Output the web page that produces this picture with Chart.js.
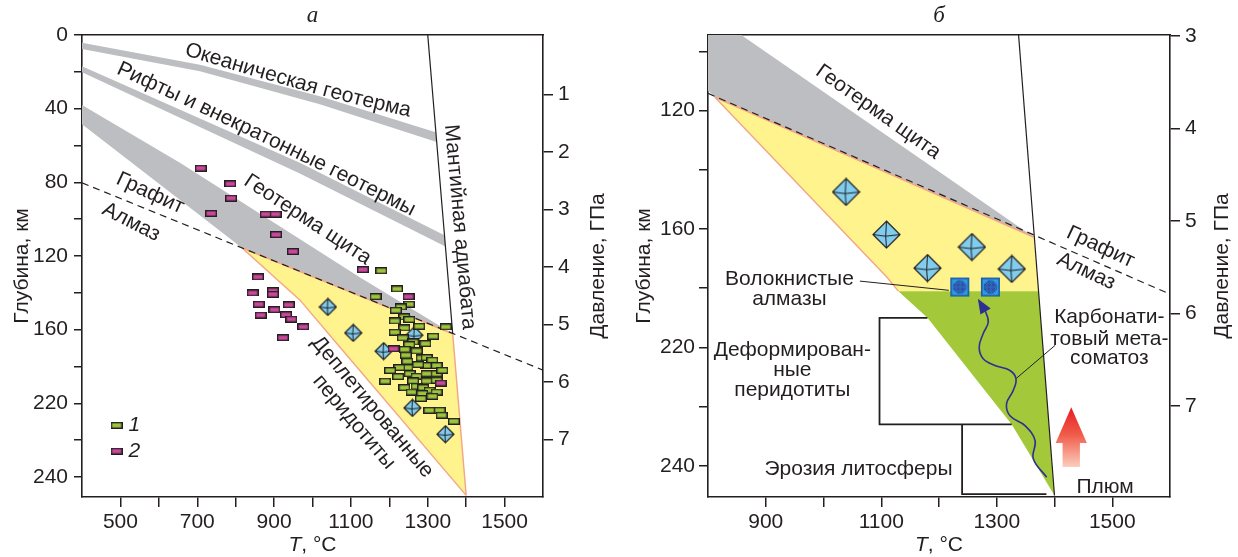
<!DOCTYPE html>
<html>
<head>
<meta charset="utf-8">
<script src="https://cdn.jsdelivr.net/npm/chart.js@4.4.1/dist/chart.umd.min.js"></script>
<style>
  html, body { margin: 0; padding: 0; background: #fff; }
  #wrap { position: relative; width: 1238px; height: 557px; overflow: hidden; background: #fff; }
  #wrap canvas { position: absolute; top: 0; }
  #panelA { left: 0; }
  #panelB { left: 620px; }
</style>
</head>
<body>
<div id="wrap">
  <canvas id="panelA" width="620" height="557"></canvas>
  <canvas id="panelB" width="618" height="557"></canvas>
</div>
<script>
// ================= Data: temperature T (°C) vs depth (km) =================

// Axis ticks and their labels
const tempTicksA  = [500, 600, 700, 800, 900, 1000, 1100, 1200, 1300, 1400, 1500];
const tempLabelsA = ['500', '', '700', '', '900', '', '1100', '', '1300', '', '1500'];
const depthTicksA  = [0, 20, 40, 60, 80, 100, 120, 140, 160, 180, 200, 220, 240];
const depthLabelsA = ['0', '', '40', '', '80', '', '120', '', '160', '', '220', '', '240'];
const pressTicksA  = [1, 2, 3, 4, 5, 6, 7];

const tempTicksB  = [900, 1000, 1100, 1200, 1300, 1400, 1500];
const tempLabelsB = ['900', '', '1100', '', '1300', '', '1500'];
const depthTicksB  = [100, 120, 140, 160, 180, 200, 220, 240];
const depthLabelsB = ['', '120', '', '160', '', '220', '', '240'];
const pressTicksB  = [3, 4, 5, 6, 7];

// Pressure (GPa) scale tied to depth
const KM_PER_GPA = 31.25;
const KM_AT_ZERO_GPA = 1;
const toGPa = d => (d - KM_AT_ZERO_GPA) / KM_PER_GPA;

// Shared reference lines
const graphiteDiamondLine = [[400, 80.3], [1600, 182]];
const mantleAdiabat = [[1300, 0], [1400, 250]];

// Panel а: geotherm bands
const oceanicBandA = [[400, 4.2], [707, 16.1], [1019, 33.3], [1320.8, 52.8],
                      [1323.2, 58.1], [1019, 37.6], [707, 19.7], [400, 7.6]];
const riftBandA    = [[400, 17.0], [967, 69.4], [1343.5, 108.8],
                      [1346, 114.9], [967, 75.2], [400, 20.2]];
const shieldBandA  = [[400, 38], [656, 69.5], [1123, 131.5], [1365, 162.3],
                      [816, 115.5], [400, 48.5]];
// Panel а: depleted peridotite field
const depletedFieldA = [[816, 115.5], [1365, 162.3], [1400, 250], [1071, 169.4], [967.5, 144]];
const depletedEdgeA  = [[816, 115.5], [967.5, 144], [1071, 169.4], [1400, 250]];
const diamondEdgeA   = [[816, 115.5], [1365, 162.3]];
const adiabatUpperA  = [[1300, 0], [1365, 162.3]];
const adiabatLowerA  = [[1365, 162.3], [1400, 250]];

// Panel а: xenolith P–T estimates, group 1 and group 2
const group1T = [1179, 1220, 1164, 1251, 1230, 1217, 1239, 1214, 1252, 1239, 1278, 1214, 1347, 1235,
                 1314, 1294, 1262, 1252, 1240, 1271, 1243, 1247, 1284, 1297, 1312, 1323, 1295, 1275,
                 1247, 1226, 1202, 1223, 1253, 1271, 1297, 1323, 1338, 1189, 1262, 1297, 1323, 1239,
                 1271, 1288, 1305, 1258, 1286, 1323, 1312, 1282, 1304, 1331, 1336, 1368];
const group1D = [128, 137.9, 142.1, 146.2, 147.7, 149.5, 153.1, 155.3, 154.5, 159.1, 158.2, 161.4, 158.5, 164.5,
                 163.6, 167.6, 166.7, 168.1, 170.7, 171.6, 173.9, 177.2, 175.4, 175.2, 176.6, 179.5, 179.5, 179,
                 180.6, 180.6, 182.2, 185.5, 183.9, 185.3, 183.9, 183.9, 182.1, 188, 187.9, 187.9, 187.5, 191.5,
                 190.8, 191.5, 192.9, 193.9, 194.7, 193.9, 196.2, 197.4, 203.8, 203.8, 206.5, 209.8];
const group2T = [709, 786, 788, 736, 878, 904, 905, 949, 1131, 858, 844, 897, 897, 860, 938, 865,
                 901, 931, 945, 976, 923, 1250, 1211, 1334];
const group2D = [72.3, 80.8, 88.6, 96.9, 97.3, 97.3, 108.4, 117.6, 127.4, 131.4, 140.1, 138.9, 140.8, 146.2,
                 146.5, 152.1, 149.2, 151.9, 154.3, 158.5, 164.4, 142.1, 170.4, 189];
// Panel а: diamond inclusions
const diamondsAT = [1040, 1106, 1185, 1265, 1260, 1346];
const diamondsAD = [147.7, 161.8, 171.7, 163, 202.5, 216.8];

// Panel б: fields
const shieldBandB    = [[790, 85.4], [1363.8, 162.7], [812, 115.5], [790, 111.2]];
const depletedFieldB = [[812, 115.5], [1363.8, 162.7], [1372.4, 181], [1129.6, 181], [1109.5, 176.2]];
const metasomFieldB  = [[1129.6, 181], [1372.4, 181], [1400, 250], [1326, 226], [1180, 190]];
const depletedEdgeB  = [[812, 115.5], [1109.5, 176.2], [1129.6, 181]];
const diamondEdgeB   = [[812, 115.5], [1363.8, 162.7]];
const deformedBox1B  = [[1180, 190], [1097, 190], [1097, 226], [1326, 226]];
const deformedBox2B  = [[1240, 226], [1240, 249.5], [1386, 249.5]];
const fibrousLeaderB = [[1063, 177.6], [1217, 180.7]];
const carbLeaderB    = [[1333, 210.6], [1401, 199.3]];
const meltPathB = [[1386.4, 243.8], [1363.3, 237.6], [1366.3, 231.4], [1348.9, 226.4], [1322.9, 223.1],
                   [1317, 219], [1328.6, 214.5], [1333.3, 210.6], [1322.9, 207.8], [1296.9, 206.1],
                   [1276.6, 203.8], [1269.6, 199.9], [1276.6, 195.3], [1285.3, 191.4], [1279.5, 187.5],
                   [1269.1, 184.1]];
// Panel б: diamonds and fibrous diamonds
const diamondsBT = [1039, 1109, 1180, 1257, 1326];
const diamondsBD = [147.5, 161.9, 173.2, 166.1, 173.5];
const fibrousBT  = [1236, 1289];
const fibrousBD  = [179.6, 179.6];

// ================= Styling =================
const INK = '#231f20';
const SANS = "'Liberation Sans', Arial, Helvetica, sans-serif";
const SERIF = "'Liberation Serif', 'Times New Roman', serif";
const LABEL_FONT = `21px ${SANS}`;
const GRAY = '#bdbec1';
const YELLOW = '#fff38d';
const GREEN = '#a3c93a';
const SALMON = '#f3a587';

Chart.defaults.font.family = SANS;
Chart.defaults.color = INK;

// ---------- marker images ----------
function rectMarker(fill) {
  const w = 12, h = 7;
  const c = document.createElement('canvas');
  c.width = w; c.height = h;
  const g = c.getContext('2d');
  g.fillStyle = fill;
  g.fillRect(0, 0, w, h);
  g.strokeStyle = INK;
  g.lineWidth = 1.4;
  g.strokeRect(0.7, 0.7, w - 1.4, h - 1.4);
  return c;
}
function octahedronMarker(size) {
  const s = size + 2, m = s / 2, r = size / 2;
  const c = document.createElement('canvas');
  c.width = s; c.height = s;
  const g = c.getContext('2d');
  g.beginPath();
  g.moveTo(m, m - r); g.lineTo(m + r, m); g.lineTo(m, m + r); g.lineTo(m - r, m); g.closePath();
  g.fillStyle = '#80cdee';
  g.fill();
  g.strokeStyle = INK;
  g.lineWidth = 1.2;
  g.stroke();
  const cx = m - r * 0.06, cy = m + r * 0.12;
  g.beginPath();
  g.moveTo(m - r, m); g.lineTo(cx, cy); g.lineTo(m + r, m);
  g.moveTo(m, m - r); g.lineTo(cx, cy); g.lineTo(m, m + r);
  g.lineWidth = 1;
  g.stroke();
  return c;
}
function fibrousMarker(size) {
  const s = size + 2, m = s / 2;
  const c = document.createElement('canvas');
  c.width = s; c.height = s;
  const g = c.getContext('2d');
  g.fillStyle = '#2f9be0';
  g.fillRect(1, 1, size, size);
  g.strokeStyle = '#1d5ca6';
  g.lineWidth = 1.6;
  g.strokeRect(1.8, 1.8, size - 1.6, size - 1.6);
  g.save();
  g.beginPath();
  g.arc(m, m, size * 0.36, 0, Math.PI * 2);
  g.clip();
  g.beginPath();
  for (let k = -s; k < s; k += 2.6) {
    g.moveTo(k, 0); g.lineTo(k + s, s);
    g.moveTo(k, s); g.lineTo(k + s, 0);
  }
  g.strokeStyle = '#2e3192';
  g.lineWidth = 0.9;
  g.stroke();
  g.restore();
  return c;
}
const greenRect = rectMarker('#9cc43c');
const pinkRect = rectMarker('#c9489b');
const octA = octahedronMarker(17);
const octB = octahedronMarker(27);
const fibrous = fibrousMarker(19);

// ---------- dataset builders ----------
const toXY = arr => arr.map(([x, y]) => ({x, y}));
const field = (arr, color, order) => ({
  type: 'line', data: toXY(arr), fill: 'shape', backgroundColor: color,
  borderColor: 'rgba(0,0,0,0)', borderWidth: 0, pointRadius: 0, tension: 0, order,
  xAxisID: 'x', yAxisID: 'y'
});
const stroke = (arr, color, width, order, extra = {}) => Object.assign({
  type: 'line', data: toXY(arr), fill: false, borderColor: color, borderWidth: width,
  pointRadius: 0, tension: 0, order, xAxisID: 'x', yAxisID: 'y'
}, extra);
const marks = (T, D, style, order) => ({
  type: 'scatter', data: T.map((x, i) => ({x, y: D[i]})), pointStyle: style, pointRadius: 5,
  order, xAxisID: 'x', yAxisID: 'y'
});

// ---------- text helpers ----------
function put(ctx, str, x, y, angle = 0, font = LABEL_FONT, align = 'center') {
  ctx.save();
  ctx.translate(x, y);
  ctx.rotate(angle * Math.PI / 180);
  ctx.font = font;
  ctx.textAlign = align;
  ctx.textBaseline = 'middle';
  ctx.fillStyle = INK;
  ctx.fillText(str, 0, 0);
  ctx.restore();
}
// text set along a smooth curve through three pixel points
function putAlong(ctx, str, p0, pm, p2, font = LABEL_FONT) {
  const cx = 2 * pm[0] - (p0[0] + p2[0]) / 2, cy = 2 * pm[1] - (p0[1] + p2[1]) / 2;
  const pts = [];
  for (let i = 0; i <= 40; i++) {
    const t = i / 40, u = 1 - t;
    pts.push([u * u * p0[0] + 2 * u * t * cx + t * t * p2[0], u * u * p0[1] + 2 * u * t * cy + t * t * p2[1]]);
  }
  const segs = [];
  let L = 0;
  for (let i = 1; i < pts.length; i++) {
    const dx = pts[i][0] - pts[i - 1][0], dy = pts[i][1] - pts[i - 1][1], l = Math.hypot(dx, dy);
    segs.push({x0: pts[i - 1][0], y0: pts[i - 1][1], dx, dy, l, s: L});
    L += l;
  }
  ctx.save();
  ctx.font = font;
  ctx.textAlign = 'center';
  ctx.textBaseline = 'middle';
  ctx.fillStyle = INK;
  const total = ctx.measureText(str).width;
  let s = (L - total) / 2;
  for (const ch of str) {
    const w = ctx.measureText(ch).width;
    const sm = s + w / 2;
    let k = segs.findIndex(q => sm <= q.s + q.l);
    if (k < 0) k = segs.length - 1;
    if (sm < 0) k = 0;
    const q = segs[k], t = (sm - q.s) / q.l;
    ctx.save();
    ctx.translate(q.x0 + q.dx * t, q.y0 + q.dy * t);
    ctx.rotate(Math.atan2(q.dy, q.dx));
    ctx.fillText(ch, 0, 0);
    ctx.restore();
    s += w;
  }
  ctx.restore();
}
function axisTitles(ctx, ca, leftOff, rightOff) {
  const midY = (ca.top + ca.bottom) / 2;
  const font = `21px ${SANS}`;
  put(ctx, 'Глубина, км', ca.left - leftOff, midY, -90, font);
  put(ctx, 'Давление, ГПа', ca.right + rightOff, midY, -90, font);
  // T, °C with italic T
  ctx.save();
  const fi = `italic 21px ${SANS}`;
  ctx.font = fi;
  const wT = ctx.measureText('T').width;
  ctx.font = font;
  const wR = ctx.measureText(', °C').width;
  const x0 = (ca.left + ca.right) / 2 - (wT + wR) / 2;
  const y = ca.bottom + 48;
  put(ctx, 'T', x0, y, 0, fi, 'left');
  put(ctx, ', °C', x0 + wT, y, 0, font, 'left');
  ctx.restore();
}

// ---------- annotations ----------
const curvedNotesA = [
  {text: 'Океаническая геотерма', path: [[684, 8.7], [1004, 28.3], [1240, 40.6]]},
  {text: 'Рифты и внекратонные геотермы', path: [[505, 19], [877, 55.4], [1248, 93.8]]}
];
const notesA = [
  {text: 'Геотерма щита', at: [987, 100.3], angle: 33.4},
  {text: 'Мантийная адиабата', at: [1383.4, 104.3], angle: 85},
  {text: 'Графит', at: [577.5, 85.9], angle: 25},
  {text: 'Алмаз', at: [528, 101.6], angle: 27},
  {text: 'Деплетированные', at: [1156, 202], angle: 50},
  {text: 'перидотиты', at: [1108, 210.2], angle: 50}
];
const legendA = [
  {label: '1', marker: greenRect, at: [490, 212]},
  {label: '2', marker: pinkRect, at: [490, 226]}
];
const notesB = [
  {text: 'Геотерма щита', at: [1094.4, 120.5], angle: 35.3},
  {text: 'Графит', at: [1479.6, 166.1], angle: 25},
  {text: 'Алмаз', at: [1455, 174.3], angle: 25},
  {text: 'Волокнистые', at: [941, 176.8]},
  {text: 'алмазы', at: [941, 183.7]},
  {text: 'Деформирован-', at: [946, 201]},
  {text: 'ные', at: [946, 207.8]},
  {text: 'перидотиты', at: [946, 214.5]},
  {text: 'Эрозия литосферы', at: [1060.6, 241]},
  {text: 'Карбонати-', at: [1495, 189.7]},
  {text: 'товый мета-', at: [1495, 197.3]},
  {text: 'соматоз', at: [1495, 203.8]},
  {text: 'Плюм', at: [1487.7, 247.2]}
];
const plumeArrowB = {T: 1429, tip: 220.2, neck: 232.3, tail: 240.4, headHalf: 27, shaftHalf: 15};

function drawPanelA(chart) {
  const {ctx, chartArea: ca} = chart;
  const X = chart.scales.x, Y = chart.scales.y;
  const px = ([T, d]) => [X.getPixelForValue(T), Y.getPixelForValue(d)];
  put(ctx, 'а', (ca.left + ca.right) / 2, ca.top - 19, 0, `italic 23px ${SERIF}`);
  for (const n of curvedNotesA) putAlong(ctx, n.text, px(n.path[0]), px(n.path[1]), px(n.path[2]));
  for (const n of notesA) { const [x, y] = px(n.at); put(ctx, n.text, x, y, n.angle); }
  for (const l of legendA) {
    const [x, y] = px(l.at);
    ctx.drawImage(l.marker, x - l.marker.width / 2, y - l.marker.height / 2);
    put(ctx, l.label, x + 12, y, 0, `italic 21px ${SANS}`, 'left');
  }
  axisTitles(ctx, ca, 60, 55);
}

function drawPanelB(chart) {
  const {ctx, chartArea: ca} = chart;
  const X = chart.scales.x, Y = chart.scales.y;
  const px = ([T, d]) => [X.getPixelForValue(T), Y.getPixelForValue(d)];
  put(ctx, 'б', (ca.left + ca.right) / 2, ca.top - 19, 0, `italic 23px ${SERIF}`);
  for (const n of notesB) { const [x, y] = px(n.at); put(ctx, n.text, x, y, n.angle || 0); }

  // arrowhead at the end of the melt path
  const meta = chart.getDatasetMeta(chart.data.datasets.findIndex(d => d.label === 'melt'));
  const pts = meta.data;
  const a = pts[pts.length - 2], b = pts[pts.length - 1];
  const ang = Math.atan2(b.y - a.y, b.x - a.x);
  ctx.save();
  ctx.translate(b.x, b.y);
  ctx.rotate(ang);
  ctx.beginPath();
  ctx.moveTo(2, 0); ctx.lineTo(-13, -6); ctx.lineTo(-13, 6); ctx.closePath();
  ctx.fillStyle = '#2e3192';
  ctx.fill();
  ctx.restore();

  // plume arrow
  const p = plumeArrowB;
  const xc = X.getPixelForValue(p.T);
  const hw = X.getPixelForValue(p.T + p.headHalf) - xc;
  const sw = X.getPixelForValue(p.T + p.shaftHalf) - xc;
  const yTip = Y.getPixelForValue(p.tip), yNeck = Y.getPixelForValue(p.neck), yTail = Y.getPixelForValue(p.tail);
  const grad = ctx.createLinearGradient(0, yTip, 0, yTail);
  grad.addColorStop(0, '#e81b25');
  grad.addColorStop(0.45, '#f05a48');
  grad.addColorStop(1, '#fccdbd');
  ctx.save();
  ctx.beginPath();
  ctx.moveTo(xc, yTip);
  ctx.lineTo(xc + hw, yNeck);
  ctx.lineTo(xc + sw, yNeck);
  ctx.lineTo(xc + sw, yTail);
  ctx.lineTo(xc - sw, yTail);
  ctx.lineTo(xc - sw, yNeck);
  ctx.lineTo(xc - hw, yNeck);
  ctx.closePath();
  ctx.fillStyle = grad;
  ctx.fill();
  ctx.restore();

  axisTitles(ctx, ca, 64, 52);
}

// ---------- chart factory ----------
function buildChart(id, spec) {
  const lookup = (vals, labels) => v => { const i = vals.indexOf(v); return i < 0 ? '' : labels[i]; };
  const tickFont = {family: SANS, size: 21};
  const tickGrid = len => ({drawOnChartArea: false, drawTicks: true, tickLength: len,
                            tickColor: INK, tickWidth: 1.5, color: INK, lineWidth: 1.5});
  const border = {display: true, color: INK, width: 1.6};
  return new Chart(document.getElementById(id), {
    type: 'scatter',
    data: {datasets: spec.datasets},
    options: {
      responsive: false, animation: false, events: [], devicePixelRatio: 1,
      layout: {padding: {top: 35, left: 0, right: 0, bottom: 0}},
      plugins: {legend: {display: false}, tooltip: {enabled: false}},
      scales: {
        x: {
          type: 'linear', position: 'bottom', min: spec.tRange[0], max: spec.tRange[1],
          afterBuildTicks: s => { s.ticks = spec.tTicks.map(value => ({value})); },
          ticks: {callback: lookup(spec.tTicks, spec.tLabels), autoSkip: false, maxRotation: 0, minRotation: 0,
                  font: tickFont, color: INK, padding: 3},
          grid: tickGrid(10), border,
          afterFit: s => { s.height = 60; }
        },
        top: {
          type: 'linear', position: 'top', min: spec.tRange[0], max: spec.tRange[1],
          ticks: {display: false}, grid: {display: false, drawTicks: false}, border,
          afterFit: s => { s.height = 0; }
        },
        y: {
          type: 'linear', position: 'left', reverse: true, min: spec.dRange[0], max: spec.dRange[1],
          afterBuildTicks: s => { s.ticks = spec.dTicks.map(value => ({value})); },
          ticks: {callback: lookup(spec.dTicks, spec.dLabels), autoSkip: false, font: tickFont, color: INK,
                  padding: spec.leftPad},
          grid: tickGrid(spec.leftTick), border,
          afterFit: s => { s.width = spec.leftW; }
        },
        p: {
          type: 'linear', position: 'right', reverse: true,
          min: toGPa(spec.dRange[0]), max: toGPa(spec.dRange[1]),
          afterBuildTicks: s => { s.ticks = spec.pTicks.map(value => ({value})); },
          ticks: {callback: v => String(v), autoSkip: false, font: tickFont, color: INK, padding: 5},
          grid: tickGrid(10), border,
          afterFit: s => { s.width = spec.rightW; }
        }
      }
    },
    plugins: [{id: 'notes', afterDatasetsDraw: chart => spec.draw(chart)}]
  });
}

// ---------- Panel а ----------
buildChart('panelA', {
  tRange: [400, 1600], dRange: [0, 250.9],
  tTicks: tempTicksA, tLabels: tempLabelsA, dTicks: depthTicksA, dLabels: depthLabelsA, pTicks: pressTicksA,
  leftW: 82, rightW: 77, leftTick: 8, leftPad: 6,
  draw: drawPanelA,
  datasets: [
    field(oceanicBandA, GRAY, 30),
    field(riftBandA, GRAY, 30),
    field(shieldBandA, GRAY, 30),
    field(depletedFieldA, YELLOW, 29),
    stroke(depletedEdgeA, SALMON, 1.4, 20),
    stroke(diamondEdgeA, SALMON, 1.6, 20),
    stroke(adiabatLowerA, SALMON, 1.4, 20),
    stroke(adiabatUpperA, INK, 1.2, 15),
    stroke(graphiteDiamondLine, INK, 1.2, 14, {borderDash: [7, 5]}),
    marks(diamondsAT, diamondsAD, octA, 8),
    marks(group1T, group1D, greenRect, 6),
    marks(group2T, group2D, pinkRect, 5)
  ]
});

// ---------- Panel б ----------
buildChart('panelB', {
  tRange: [800, 1600], dRange: [94.5, 250.5],
  tTicks: tempTicksB, tLabels: tempLabelsB, dTicks: depthTicksB, dLabels: depthLabelsB, pTicks: pressTicksB,
  leftW: 88, rightW: 68, leftTick: 9, leftPad: 4,
  draw: drawPanelB,
  datasets: [
    field(shieldBandB, GRAY, 30),
    field(depletedFieldB, YELLOW, 29),
    field(metasomFieldB, GREEN, 28),
    stroke(depletedEdgeB, SALMON, 1.4, 20),
    stroke(diamondEdgeB, SALMON, 1.6, 20),
    stroke(mantleAdiabat, INK, 1.2, 15),
    stroke(graphiteDiamondLine, INK, 1.2, 14, {borderDash: [7, 5]}),
    stroke(deformedBox1B, INK, 1.8, 13),
    stroke(deformedBox2B, INK, 1.8, 13),
    stroke(fibrousLeaderB, INK, 1, 12),
    stroke(carbLeaderB, INK, 1, 12),
    stroke(meltPathB, '#2e3192', 1.6, 11, {tension: 0.4, label: 'melt'}),
    marks(diamondsBT, diamondsBD, octB, 8),
    marks(fibrousBT, fibrousBD, fibrous, 6)
  ]
});
</script>
</body>
</html>
